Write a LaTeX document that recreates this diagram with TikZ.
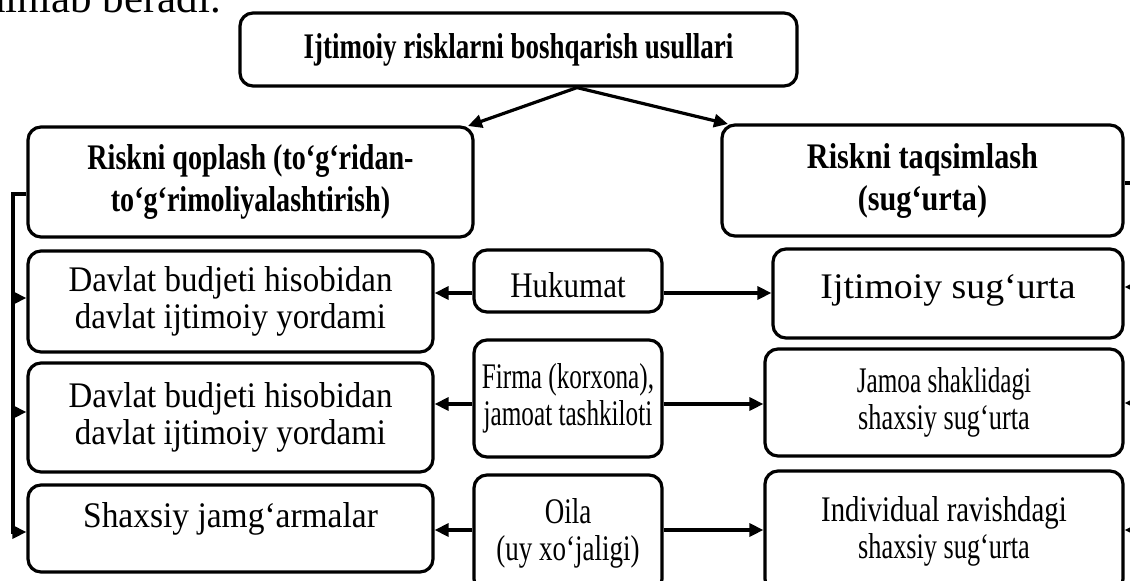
\documentclass[tikz,border=0pt]{standalone}
\usepackage{fontspec}
\usepackage{graphicx}
\setmainfont{Liberation Serif}
\usetikzlibrary{arrows.meta,calc}
\newcommand\narrowtxt[2][0.9]{\scalebox{#1}[1]{#2}}
\begin{document}
\begin{tikzpicture}[x=1pt,y=-1pt,
  box/.style={draw, line width=3.2pt, rounded corners=13pt, inner sep=0pt,
    align=center, font=\fontsize{36}{37}\selectfont},
  head/.style={box, font=\fontsize{36}{42}\selectfont\bfseries},
  link/.style={line width=3.2pt},
  arr/.style={link, -{Triangle[length=14pt,width=13pt]}}]
\useasboundingbox (0,0) rectangle (1130,581);
\clip (0,0) rectangle (1130,581);

% closing words of the sentence above the scheme
\node[anchor=base east, inner sep=0pt, font=\fontsize{43}{45}\selectfont] (prev) at (221,12) {ta’minlab beradi.};

% heading
\node[head, minimum width=557pt, minimum height=73pt] (title) at (518.5,49.5)
  {\narrowtxt[0.75]{Ijtimoiy risklarni boshqarish usullari}};

% two main branches
\node[head, minimum width=445pt, minimum height=110pt] (L0) at (250.5,182)
  {\narrowtxt[0.78]{Riskni qoplash (to‘g‘ridan-}\\\narrowtxt[0.78]{to‘g‘rimoliyalashtirish)}};
\node[head, minimum width=401pt, minimum height=111pt] (R0) at (922.5,180.5)
  {\narrowtxt[0.84]{Riskni taqsimlash}\\\narrowtxt[0.84]{(sug‘urta)}};

% left column: sources of direct financing
\node[box, minimum width=405pt, minimum height=101pt] (L1) at (230.5,301.5)
  {\narrowtxt[0.915]{Davlat budjeti hisobidan}\\\narrowtxt[0.915]{davlat ijtimoiy yordami}};
\node[box, minimum width=405pt, minimum height=109pt] (L2) at (230.5,417.5)
  {\narrowtxt[0.915]{Davlat budjeti hisobidan}\\\narrowtxt[0.915]{davlat ijtimoiy yordami}};
\node[box, minimum width=405pt, minimum height=87pt, text height=24.6pt, text depth=27.6pt] (L3) at (230.5,528.5)
  {\narrowtxt[0.93]{Shaxsiy jamg‘armalar}};

% middle column: who carries the risk
\node[box, minimum width=188pt, minimum height=62pt, text height=41pt, text depth=9pt] (M1) at (568,281)
  {\narrowtxt[0.86]{Hukumat}};
\node[box, minimum width=188pt, minimum height=117pt] (M2) at (568,398.5)
  {\narrowtxt[0.7]{Firma (korxona),}\\\narrowtxt[0.7]{jamoat tashkiloti}};
\node[box, minimum width=188pt, minimum height=117pt] (M3) at (568,533.5)
  {\narrowtxt[0.75]{Oila}\\\narrowtxt[0.75]{(uy xo‘jaligi)}};

% right column: forms of insurance
\node[box, minimum width=350pt, minimum height=89pt, text height=24.6pt, text depth=15.6pt] (R1) at (948,293.5)
  {\narrowtxt[1.05]{Ijtimoiy sug‘urta}};
\node[box, minimum width=358pt, minimum height=107pt] (R2) at (944,402.5)
  {\narrowtxt[0.7]{Jamoa shaklidagi}\\\narrowtxt[0.73]{shaxsiy sug‘urta}};
\node[box, minimum width=358pt, minimum height=121pt] (R3) at (944,531.5)
  {\narrowtxt[0.8]{Individual ravishdagi}\\\narrowtxt[0.73]{shaxsiy sug‘urta}};

% heading to branches
\coordinate (apex) at (577,86);
\coordinate (tipL) at (468,126);
\coordinate (tipR) at (728,124);
\draw[arr] (title.south -| apex) -- (tipL);
\draw[arr] (title.south -| apex) -- (tipR);

% row connectors
\coordinate (row1) at (0,293);
\coordinate (row2) at (0,404);
\coordinate (row3) at (0,530);
\draw[arr] (M1.west |- row1) -- (L1.east |- row1);
\draw[arr] (M1.east |- row1) -- (R1.west |- row1);
\draw[arr] (M2.west |- row2) -- (L2.east |- row2);
\draw[arr] (M2.east |- row2) -- (R2.west |- row2);
\draw[arr] (M3.west |- row3) -- (L3.east |- row3);
\draw[arr] (M3.east |- row3) -- (R3.west |- row3);

% left bracket
\coordinate (lbtop) at (13,194);
\coordinate (lb1) at (13,298);
\coordinate (lb2) at (13,412);
\coordinate (lb3) at (13,532);
\draw[link] (L0.west |- lbtop) -- (lbtop) -- ([yshift=1.6pt]lb3);
\draw[arr] (lb1) -- (L1.west |- lb1);
\draw[arr] (lb2) -- (L2.west |- lb2);
\draw[arr] ([xshift=-1.6pt]lb3) -- (L3.west |- lb3);

% right bracket
\coordinate (rbtop) at (1145,183);
\coordinate (rb1) at (1145,287);
\coordinate (rb2) at (1145,403);
\coordinate (rb3) at (1145,530);
\draw[link] (R0.east |- rbtop) -- (rbtop) -- (rb3);
\draw[arr] (rb1) -- (R1.east |- rb1);
\draw[arr] (rb2) -- (R2.east |- rb2);
\draw[arr] (rb3) -- (R3.east |- rb3);
\end{tikzpicture}
\end{document}
